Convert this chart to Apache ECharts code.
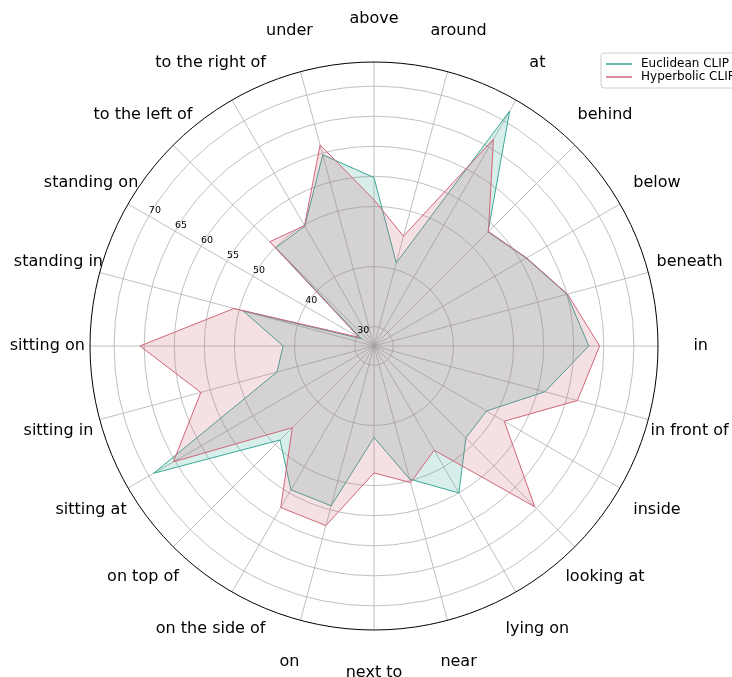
<!DOCTYPE html>
<html>
<head>
<meta charset="utf-8">
<script src="https://cdn.jsdelivr.net/npm/echarts@6/dist/echarts.min.js"></script>
<style>html,body{margin:0;padding:0;background:#fff}#c{width:732px;height:677px}</style>
</head>
<body>
<div id="c"></div>
<script>
const categories = ['above','around','at','behind','below','beneath','in','in front of','inside','looking at','lying on','near','next to','on','on the side of','on top of','sitting at','sitting in','sitting on','standing in','standing on','to the left of','to the right of','under'];
const euclidean = [54.8, 41.1, 71.9, 53.6, 56.0, 60.0, 62.5, 56.2, 48.4, 48.4, 55.0, 49.7, 42.0, 54.3, 54.4, 48.9, 69.1, 43.5, 41.9, 49.3, 29.2, 49.9, 49.8, 59.7];
const hyperbolic = [51.1, 45.7, 66.5, 53.7, 56.1, 60.1, 64.3, 61.8, 51.8, 64.6, 46.8, 50.3, 47.9, 57.7, 57.8, 46.0, 65.3, 56.6, 65.7, 50.9, 29.7, 51.3, 49.9, 61.4];
const radialTicks = [30, 40, 50, 55, 60, 65, 70];
const seriesNames = ['Euclidean CLIP', 'Hyperbolic CLIP'];

const R_MIN = 26.8, R_MAX = 74.0;
const LABEL_R = 81.1;          // radius (data units) where category names sit
const TICK_LABEL_ANGLE = 20;   // spoke along which radial tick labels sit
const FONT = 'DejaVu Sans';
const TEAL = '#3aa896', PINK = '#cf6679';

const N = categories.length;
function closed(vals) {
  const d = vals.map((v, i) => [v, i]);
  d.push([vals[0], N]);
  return d;
}

const chart = echarts.init(document.getElementById('c'), null, {renderer: 'canvas'});
chart.setOption({
  backgroundColor: '#fff',
  animation: false,
  polar: {center: [374, 346], radius: 284},
  angleAxis: {
    type: 'value', min: 0, max: N, interval: 1,
    startAngle: 90, clockwise: true,
    axisLine: {show: true, lineStyle: {color: '#000', width: 1}},
    axisTick: {show: false},
    axisLabel: {show: false},
    splitLine: {show: true, lineStyle: {color: '#b0b0b0', width: 0.8}}
  },
  radiusAxis: {
    type: 'value', min: R_MIN, max: R_MAX,
    axisLine: {show: false},
    axisTick: {show: false, customValues: radialTicks},
    axisLabel: {show: false, customValues: radialTicks},
    splitLine: {show: true, lineStyle: {color: '#b0b0b0', width: 0.8}}
  },
  legend: {
    data: seriesNames.map(n => ({name: n, icon: 'rect'})),
    orient: 'vertical',
    left: 601, top: 53,
    padding: [5, 6, 5, 5],
    itemWidth: 26, itemHeight: 1.5, itemGap: 1,
    backgroundColor: '#fff',
    borderColor: '#cccccc', borderWidth: 1, borderRadius: 3,
    textStyle: {fontFamily: FONT, fontSize: 12, color: '#000', padding: [0, 0, 0, 4]}
  },
  series: [
    {
      name: seriesNames[0], type: 'line', coordinateSystem: 'polar',
      data: closed(euclidean), symbol: 'none', smooth: false,
      lineStyle: {color: TEAL, width: 1}, itemStyle: {color: TEAL},
      areaStyle: {color: TEAL, opacity: 0.2}, z: 3
    },
    {
      name: seriesNames[1], type: 'line', coordinateSystem: 'polar',
      data: closed(hyperbolic), symbol: 'none', smooth: false,
      lineStyle: {color: PINK, width: 1}, itemStyle: {color: PINK},
      areaStyle: {color: PINK, opacity: 0.2}, z: 4
    },
    {
      type: 'scatter', coordinateSystem: 'polar', clip: false, silent: true,
      symbolSize: 0, z: 5, itemStyle: {opacity: 1, color: '#000'},
      data: categories.map((c, i) => ({name: c, value: [LABEL_R, i]})),
      label: {show: true, position: 'inside', formatter: p => p.name, opacity: 1,
        fontFamily: FONT, fontSize: 16, color: '#000', textBorderWidth: 0}
    },
    {
      type: 'scatter', coordinateSystem: 'polar', clip: false, silent: true,
      symbolSize: 0, z: 5, itemStyle: {opacity: 1, color: '#000'},
      data: radialTicks.map(v => ({value: [v, TICK_LABEL_ANGLE]})),
      label: {show: true, position: 'inside', offset: [6, -6], formatter: p => String(p.value[0]), opacity: 1,
        fontFamily: FONT, fontSize: 9.5, color: '#000', textBorderWidth: 0}
    }
  ]
});
</script>
</body>
</html>
